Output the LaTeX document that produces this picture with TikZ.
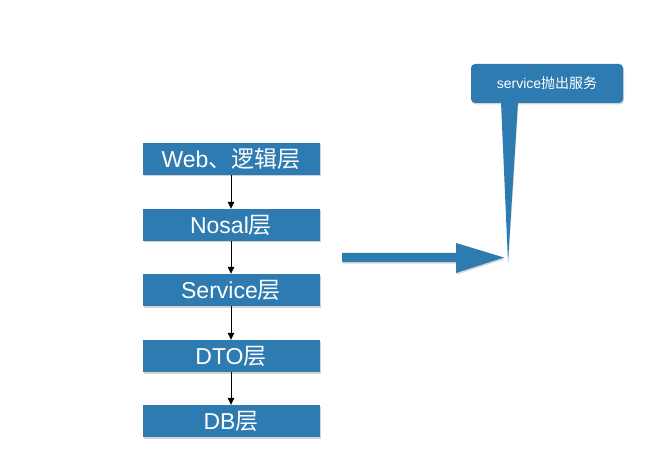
\documentclass[tikz,border=0pt]{standalone}
\usepackage{fontspec}
\setmainfont{Liberation Sans}
\newfontfamily\cjk{Noto Sans CJK SC}
\usetikzlibrary{shadows,arrows.meta,calc}
\definecolor{boxblue}{HTML}{2E7BB1}
\tikzset{
  layer/.style={fill=boxblue, draw=none, minimum width=177pt, minimum height=32pt,
    inner sep=0pt, text=white, font=\fontsize{23}{25}\selectfont,
    drop shadow={shadow xshift=1pt, shadow yshift=-1.5pt, opacity=0.35}},
  link/.style={-{Triangle[length=7pt,width=6.5pt]}, black, line width=0.7pt},
  callout/.style={fill=boxblue, draw=none, rounded corners=4pt, minimum width=152pt,
    minimum height=39pt, inner sep=0pt, text=white, font=\fontsize{14}{16}\selectfont,
    drop shadow={shadow xshift=1pt, shadow yshift=-1.5pt, opacity=0.35}}
}
\begin{document}
\begin{tikzpicture}[x=1pt,y=-1pt]
\useasboundingbox (0,0) rectangle (658,470);
\node[layer] (web) at (231,159) {Web{\cjk 、逻辑层}};
\node[layer] (nosql) at (231,225) {Nosal{\cjk 层}};
\node[layer] (svc) at (231,290) {Service{\cjk 层}};
\node[layer] (dto) at (231,356) {DTO{\cjk 层}};
\node[layer] (db) at (231,421) {DB{\cjk 层}};
\draw[link] (web) -- (nosql);
\draw[link] (nosql) -- (svc);
\draw[link] (svc) -- (dto);
\draw[link] (dto) -- (db);
% callout
\node[callout] (call) at (547,83.5) {service{\cjk 抛出服务}};
\coordinate (tip) at (508,262);
\fill[boxblue, drop shadow={shadow xshift=0.5pt, shadow yshift=-1pt, opacity=0.25}]
  ($(call.south)+(-46,-1)$) -- ($(call.south)+(-29,-1)$) -- (tip) -- cycle;
% big arrow
\fill[boxblue, drop shadow={shadow xshift=1pt, shadow yshift=-1.5pt, opacity=0.3}]
  (342,253) -- (456,253) -- (456,243) -- (504,257.5) -- (456,273) -- (456,262) -- (342,262) -- cycle;
\end{tikzpicture}
\end{document}
